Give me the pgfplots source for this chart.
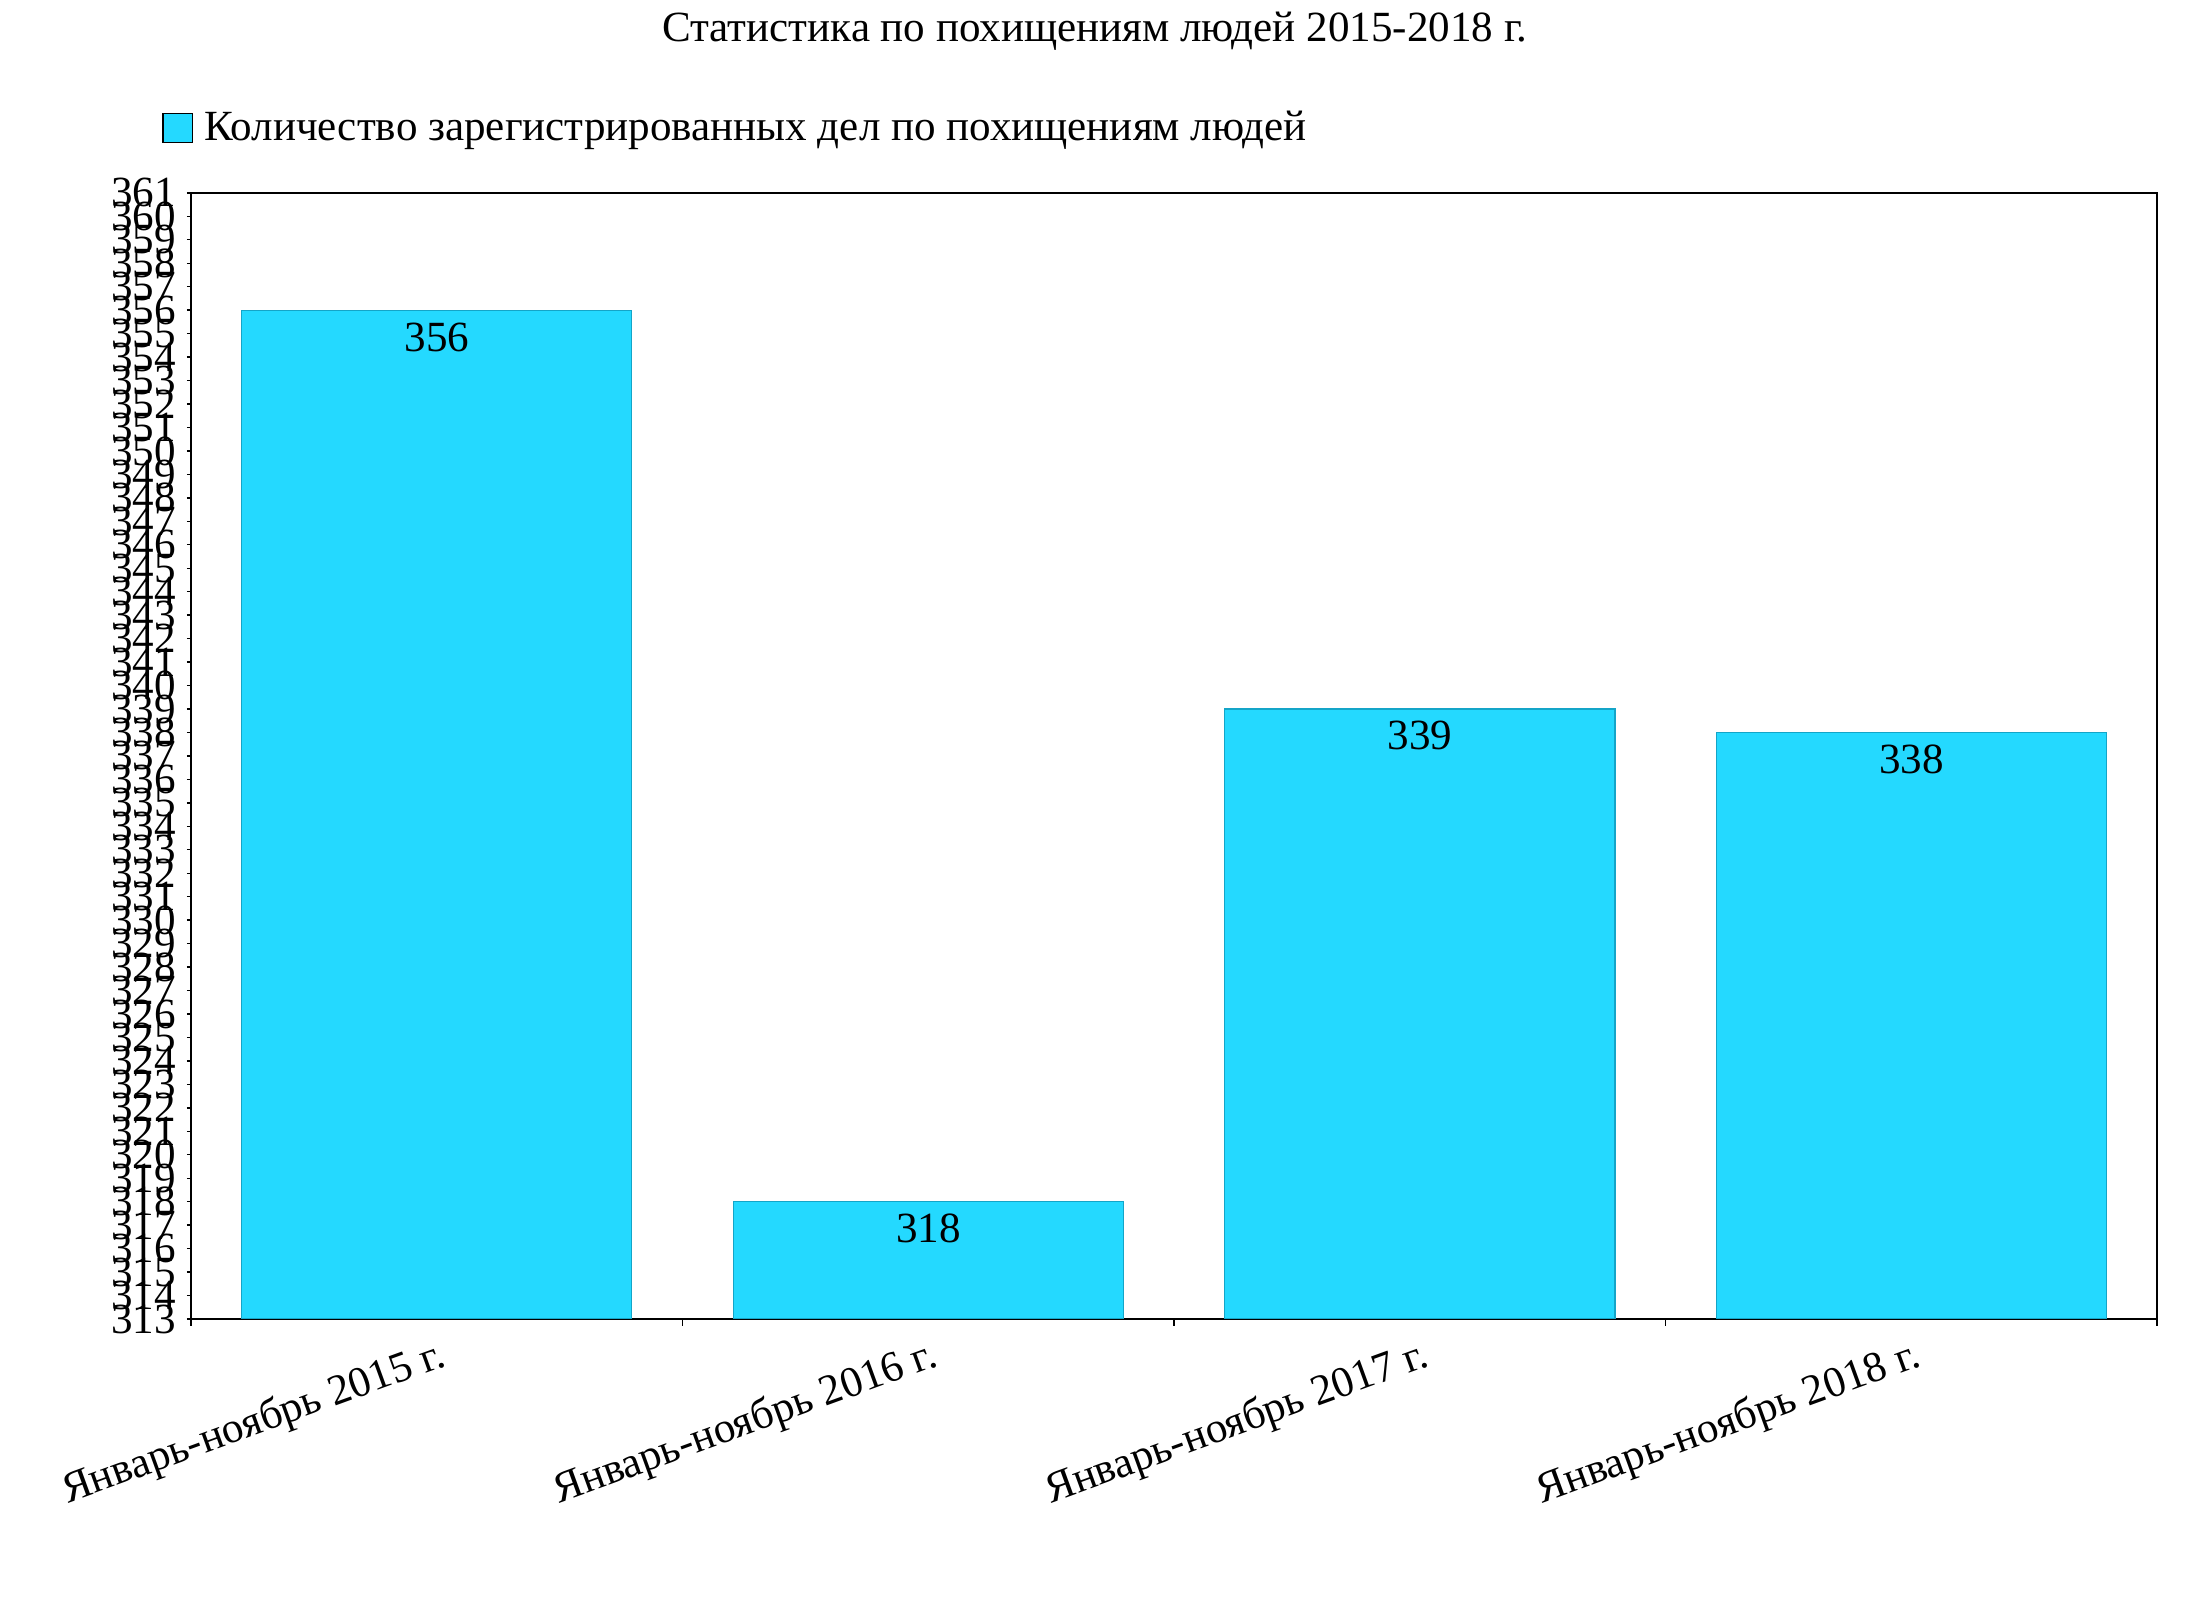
\documentclass[border=0pt]{standalone}
\usepackage{fontspec}
\setmainfont{Liberation Serif}
\usepackage{pgfplots}
\pgfplotsset{compat=1.18}
\definecolor{barfill}{RGB}{36,217,255}
\definecolor{baredge}{RGB}{20,165,200}
\newcommand{\cf}{\fontsize{15.5}{18}\selectfont}
\begin{document}
\begin{tikzpicture}
\path[use as bounding box] (0,0) rectangle (788.4pt,579.6pt);
\node[font=\cf] at (394.2pt,568.5pt) {Статистика по похищениям людей 2015-2018 г.};
\begin{axis}[
  at={(68.76pt,104.76pt)}, anchor=south west,
  scale only axis, width=707.8pt, height=405.4pt,
  xmin=-0.5, xmax=3.5, ymin=313, ymax=361,
  ybar, bar width=0.794, bar shift=0pt,
  axis line style={line width=0.8pt},
  tick align=outside, xtick pos=bottom, ytick pos=left,
  xtick={0,1,2,3},
  xticklabels={Январь-ноябрь 2015 г.,Январь-ноябрь 2016 г.,Январь-ноябрь 2017 г.,Январь-ноябрь 2018 г.},
  major x tick style={draw=none},
  minor xtick={-0.5,0.5,1.5,2.5,3.5},
  minor tick length=2.5pt,
  ytick={313,...,361},
  major tick length=1.5pt,
  tick style={black, line width=0.5pt},
  /pgf/number format/assume math mode=true,
  ticklabel style={font=\cf},
  yticklabel style={xshift=-0.5pt},
  xticklabel style={rotate=20, anchor=north east, xshift=2pt, yshift=-1pt},
  nodes near coords,
  every node near coord/.append style={font=\cf, anchor=center, yshift=-9.7pt, black},
  legend style={draw=none, fill=none, inner sep=0pt, anchor=west, at={(axis description cs:-0.0148,1.0577)}, font=\cf},
  legend cell align=left,
  legend image code/.code={\draw[fill=barfill, draw=black, line width=0.4pt] (0pt,-5.3pt) rectangle (10.6pt,5.3pt);},
  /tikz/every odd column/.append style={column sep=2pt},
]
\addplot[fill=barfill, draw=baredge, line width=0.4pt] coordinates {(0,356) (1,318) (2,339) (3,338)};
\addlegendentry{Количество зарегистрированных дел по похищениям людей}
\end{axis}
\end{tikzpicture}
\end{document}
